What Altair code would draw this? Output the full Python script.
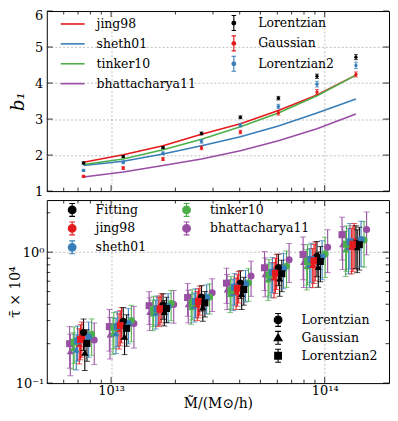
import altair as alt
import pandas as pd

# ---------------- data ----------------
mass = [7.43e12, 1.14e13, 1.75e13, 2.65e13, 4.03e13, 6.07e13, 9.20e13, 1.40e14]

# top panel: measured b1 per profile
b1_lorentzian = [1.78, 1.96, 2.21, 2.60, 3.05, 3.58, 4.19, 4.72]
b1_lorentzian_err = [0.03, 0.03, 0.03, 0.04, 0.04, 0.05, 0.06, 0.07]
b1_gaussian = [1.41, 1.64, 1.89, 2.20, 2.64, 3.17, 3.75, 4.24]
b1_gaussian_err = [0.03, 0.04, 0.04, 0.05, 0.05, 0.06, 0.07, 0.07]
b1_lorentzian2 = [1.575, 1.80, 2.05, 2.38, 2.83, 3.35, 3.97, 4.49]
b1_lorentzian2_err = [0.03, 0.04, 0.04, 0.05, 0.05, 0.06, 0.08, 0.09]

# top panel: model predictions of b1
b1_jing98 = [1.80, 2.01, 2.26, 2.58, 2.87, 3.24, 3.67, 4.22]
b1_sheth01 = [1.71, 1.83, 2.03, 2.26, 2.51, 2.81, 3.17, 3.56]
b1_tinker10 = [1.74, 1.89, 2.15, 2.44, 2.79, 3.17, 3.65, 4.22]
b1_bhattacharya11 = [1.39, 1.53, 1.71, 1.89, 2.12, 2.40, 2.73, 3.14]

# bottom panel: tau x 1e4, per profile and model
tau_L_fitting = [0.243, 0.297, 0.394, 0.455, 0.582, 0.760, 0.927, 1.17]
tau_L_jing98 = [0.225, 0.290, 0.385, 0.440, 0.560, 0.740, 0.900, 1.20]
tau_L_sheth01 = [0.225, 0.285, 0.385, 0.450, 0.570, 0.750, 0.920, 1.25]
tau_L_tinker10 = [0.236, 0.300, 0.405, 0.455, 0.585, 0.780, 0.970, 1.24]
tau_L_bhattacharya11 = [0.213, 0.285, 0.398, 0.489, 0.657, 0.875, 1.09, 1.49]

tau_G_fitting = [0.171, 0.226, 0.350, 0.380, 0.480, 0.630, 0.770, 1.09]
tau_G_jing98 = [0.200, 0.260, 0.360, 0.400, 0.500, 0.640, 0.800, 1.10]
tau_G_sheth01 = [0.180, 0.240, 0.345, 0.390, 0.490, 0.640, 0.800, 1.10]
tau_G_tinker10 = [0.185, 0.240, 0.340, 0.380, 0.480, 0.620, 0.780, 1.05]
tau_G_bhattacharya11 = [0.175, 0.235, 0.350, 0.400, 0.520, 0.680, 0.840, 1.15]

tau_L2_fitting = [0.201, 0.262, 0.371, 0.410, 0.518, 0.684, 0.849, 1.14]
tau_L2_jing98 = [0.215, 0.275, 0.370, 0.420, 0.530, 0.690, 0.860, 1.15]
tau_L2_sheth01 = [0.210, 0.270, 0.370, 0.420, 0.540, 0.700, 0.880, 1.20]
tau_L2_tinker10 = [0.205, 0.265, 0.365, 0.410, 0.510, 0.670, 0.850, 1.15]
tau_L2_bhattacharya11 = [0.200, 0.270, 0.390, 0.450, 0.580, 0.760, 0.960, 1.36]

# relative 1-sigma errors on tau per model
relerr_fitting = [0.27, 0.27, 0.22, 0.22, 0.24, 0.27, 0.30, 0.36]
relerr_jing98 = [0.30, 0.30, 0.25, 0.25, 0.27, 0.30, 0.33, 0.38]
relerr_sheth01 = [0.30, 0.30, 0.25, 0.25, 0.27, 0.30, 0.33, 0.38]
relerr_tinker10 = [0.31, 0.31, 0.26, 0.26, 0.28, 0.31, 0.34, 0.38]
relerr_bhattacharya11 = [0.35, 0.35, 0.28, 0.28, 0.30, 0.33, 0.36, 0.36]

# effective-mass shift (dex) of each model, per profile
shift_lorentzian = [0.000, -0.008, 0.024, 0.038, 0.050]
shift_gaussian = [0.006, -0.020, -0.034, -0.048, -0.062]
shift_lorentzian2 = [0.016, -0.014, -0.028, -0.044, -0.065]

models = ["Fitting", "jing98", "sheth01", "tinker10", "bhattacharya11"]
profiles = ["Lorentzian", "Gaussian", "Lorentzian2"]
model_colors = ["black", "#e41a1c", "#377eb8", "#4daf4a", "#984ea3"]
profile_colors = ["black", "#e41a1c", "#377eb8"]

# tick positions
x_major = [1e13, 1e14]
x_minor = [6e12, 7e12, 8e12, 9e12, 2e13, 3e13, 4e13, 5e13, 6e13, 7e13, 8e13, 9e13]
ytop_major = [1, 2, 3, 4, 5, 6]
ybot_major = [0.1, 1.0]
ybot_minor = [0.2, 0.3, 0.4, 0.5, 0.6, 0.7, 0.8, 0.9, 2.0]

# ---------------- tables ----------------
rows = []
for prof, vals, errs in [("Lorentzian", b1_lorentzian, b1_lorentzian_err),
                         ("Gaussian", b1_gaussian, b1_gaussian_err),
                         ("Lorentzian2", b1_lorentzian2, b1_lorentzian2_err)]:
    for m, v, e in zip(mass, vals, errs):
        rows.append({"M": m, "b": v, "lo": v - e, "hi": v + e, "profile": prof})
top_pts = pd.DataFrame(rows)

rows = []
for mod, vals in [("jing98", b1_jing98), ("sheth01", b1_sheth01),
                  ("tinker10", b1_tinker10), ("bhattacharya11", b1_bhattacharya11)]:
    for m, v in zip(mass, vals):
        rows.append({"M": m, "b": v, "model": mod})
top_lines = pd.DataFrame(rows)

tau_tab = {
    "Lorentzian": [tau_L_fitting, tau_L_jing98, tau_L_sheth01, tau_L_tinker10, tau_L_bhattacharya11],
    "Gaussian": [tau_G_fitting, tau_G_jing98, tau_G_sheth01, tau_G_tinker10, tau_G_bhattacharya11],
    "Lorentzian2": [tau_L2_fitting, tau_L2_jing98, tau_L2_sheth01, tau_L2_tinker10, tau_L2_bhattacharya11],
}
shift_tab = {"Lorentzian": shift_lorentzian, "Gaussian": shift_gaussian, "Lorentzian2": shift_lorentzian2}
err_tab = [relerr_fitting, relerr_jing98, relerr_sheth01, relerr_tinker10, relerr_bhattacharya11]

rows = []
for mi in reversed(range(len(models))):          # Fitting drawn last (on top)
    for prof in profiles:
        for k, m in enumerate(mass):
            v = tau_tab[prof][mi][k]
            e = err_tab[mi][k] * v
            rows.append({"M": m * 10 ** shift_tab[prof][mi], "tau": v, "lo": v - e, "hi": v + e,
                         "model": models[mi], "profile": prof})
bot = pd.DataFrame(rows)

# ---------------- layout constants ----------------
W = 344
H_TOP = 181
H_BOT = 184
MAJ, MIN = 6, 3.5
FONT = "DejaVu Serif"

xscale = alt.Scale(type="log", domain=[5e12, 2e14], nice=False)
ytop_scale = alt.Scale(domain=[1, 6], nice=False, zero=False)
ybot_scale = alt.Scale(type="log", domain=[0.1, 2.5], nice=False)

x_axis_top = alt.Axis(values=x_major, labels=False, title=None, grid=True,
                      minExtent=0, maxExtent=0, labelPadding=0)
x_axis_bot = alt.Axis(values=x_major, labelExpr="datum.value < 5e13 ? '10¹³' : '10¹⁴'",
                      title="M̃/(M⊙/h)", grid=True, labelPadding=1, titlePadding=0,
                      titleFontSize=14)
y_axis_top = alt.Axis(values=ytop_major, format="d", title="b₁", titleFontStyle="italic",
                      titleFontSize=18, grid=True, labelPadding=4, titleX=-28,
                      titleBaseline="middle",
                      labelBaseline={"condition": {"test": "datum.value >= 6", "value": "top"},
                                     "value": "middle"},
                      labelOffset={"condition": {"test": "datum.value >= 6", "value": -1}, "value": 0},
                      gridOpacity={"condition": {"test": "datum.value <= 1 || datum.value >= 6", "value": 0},
                                   "value": 1})
y_axis_bot = alt.Axis(values=ybot_major, labelExpr="datum.value < 0.5 ? '10⁻¹' : '10⁰'",
                      title="τ̄ × 10⁴", titleFontSize=14, grid=True, labelPadding=3,
                      titleX=-31, titleBaseline="middle",
                      gridOpacity={"condition": {"test": "datum.value < 0.5", "value": 0}, "value": 1})

EB_T = "M0,-1L0,1M-0.3,-1L0.3,-1M-0.3,1L0.3,1"
PATH_EB_TOP = EB_T + "M-0.25,0A0.25,0.25,0,1,0,0.25,0A0.25,0.25,0,1,0,-0.25,0Z"
EB = "M0,-1L0,1M-0.45,-1L0.45,-1M-0.45,1L0.45,1"
PATH_CIRC = EB + "M-0.6,0A0.6,0.6,0,1,0,0.6,0A0.6,0.6,0,1,0,-0.6,0Z"
PATH_TRI = EB + "M0,-0.62L0.62,0.45L-0.62,0.45Z"
PATH_SQ = EB + "M-0.52,-0.52L0.52,-0.52L0.52,0.52L-0.52,0.52Z"


def edge_ticks(xs, ys, xlen, ylen, xaxis, yaxis, yscale, H):
    """inward ticks on all four sides"""
    out = []
    dfx = pd.DataFrame({"v": xs})
    out.append(alt.Chart(dfx).mark_rule(color="black", strokeWidth=0.8).encode(
        x=alt.X("v:Q", scale=xscale, axis=xaxis), y=alt.value(H), y2=alt.value(H - xlen)))
    out.append(alt.Chart(dfx).mark_rule(color="black", strokeWidth=0.8).encode(
        x=alt.X("v:Q", scale=xscale, axis=xaxis), y=alt.value(0), y2=alt.value(xlen)))
    if ys:
        dfy = pd.DataFrame({"v": ys})
        out.append(alt.Chart(dfy).mark_rule(color="black", strokeWidth=0.8).encode(
            y=alt.Y("v:Q", scale=yscale, axis=yaxis), x=alt.value(0), x2=alt.value(ylen)))
        out.append(alt.Chart(dfy).mark_rule(color="black", strokeWidth=0.8).encode(
            y=alt.Y("v:Q", scale=yscale, axis=yaxis), x=alt.value(W), x2=alt.value(W - ylen)))
    return out


# ---------------- top panel ----------------
model4 = models[1:]
color4 = model_colors[1:]
line_legend = alt.Legend(orient="none", legendX=13, legendY=0, title=None, symbolType="stroke",
                         symbolSize=576, symbolStrokeWidth=1.6, labelOffset=11, rowPadding=-4.6,
                         padding=0)
tx = alt.X("M:Q", scale=xscale, axis=x_axis_top)
lines = alt.Chart(top_lines).mark_line(strokeWidth=1.6).encode(
    x=tx, y=alt.Y("b:Q", scale=ytop_scale, axis=y_axis_top),
    color=alt.Color("model:N", scale=alt.Scale(domain=model4, range=color4), legend=line_legend),
    detail="model:N",
)


def pf_scale():
    return alt.Scale(domain=profiles, range=profile_colors)


prof_legend = alt.Legend(orient="none", legendX=179.5, legendY=3.5, title=None, symbolType=PATH_EB_TOP,
                         symbolSize=225, symbolStrokeWidth=1.1, labelOffset=16, rowPadding=-0.5,
                         padding=0)

top_bars = alt.Chart(top_pts).mark_rule(strokeWidth=1.1).encode(
    x=tx, y=alt.Y("lo:Q", scale=ytop_scale, axis=y_axis_top), y2="hi:Q",
    stroke=alt.Stroke("profile:N", scale=pf_scale(), legend=None))
top_cap_lo = alt.Chart(top_pts).mark_tick(orient="horizontal", size=4, thickness=1).encode(
    x=tx, y=alt.Y("lo:Q", scale=ytop_scale, axis=y_axis_top),
    fill=alt.Fill("profile:N", scale=pf_scale(), legend=None))
top_cap_hi = alt.Chart(top_pts).mark_tick(orient="horizontal", size=4, thickness=1).encode(
    x=tx, y=alt.Y("hi:Q", scale=ytop_scale, axis=y_axis_top),
    fill=alt.Fill("profile:N", scale=pf_scale(), legend=None))
top_dots = alt.Chart(top_pts).mark_point(filled=True, size=11, opacity=1, shape="circle").encode(
    x=tx, y=alt.Y("b:Q", scale=ytop_scale, axis=y_axis_top),
    fill=alt.Fill("profile:N", scale=pf_scale(), legend=None))
top_leg = alt.Chart(top_pts).transform_filter("false").mark_point(
    filled=True, shape=PATH_EB_TOP, size=225, strokeWidth=1.1, opacity=1).encode(
    x=tx, y=alt.Y("b:Q", scale=ytop_scale, axis=y_axis_top),
    fill=alt.Fill("profile:N", scale=pf_scale(), legend=prof_legend),
    stroke=alt.Stroke("profile:N", scale=pf_scale(), legend=prof_legend))

top = alt.layer(
    lines, top_bars, top_cap_lo, top_cap_hi, top_dots, top_leg,
    *edge_ticks(x_major, ytop_major, MAJ, MAJ, x_axis_top, y_axis_top, ytop_scale, H_TOP),
    *edge_ticks(x_minor, [], MIN, MIN, x_axis_top, y_axis_top, ytop_scale, H_TOP),
).resolve_scale(fill="independent", stroke="independent").properties(width=W, height=H_TOP)

# ---------------- bottom panel ----------------


def md_scale():
    return alt.Scale(domain=models, range=model_colors)


model_legend = alt.Legend(orient="none", legendX=18, legendY=2, title=None, columns=2,
                          columnPadding=33, symbolType=PATH_CIRC, symbolSize=169,
                          symbolStrokeWidth=1.1, labelOffset=16, rowPadding=0, padding=0)
shape_legend = alt.Legend(orient="none", legendX=225, legendY=113, title=None, symbolSize=169,
                          symbolStrokeWidth=1.1, labelOffset=16, rowPadding=-1, padding=0)

bx = alt.X("M:Q", scale=xscale, axis=x_axis_bot)
bot_bars = alt.Chart(bot).mark_rule(strokeWidth=1.1).encode(
    x=bx, y=alt.Y("lo:Q", scale=ybot_scale, axis=y_axis_bot), y2="hi:Q",
    stroke=alt.Stroke("model:N", scale=md_scale(), legend=None))
bot_cap_lo = alt.Chart(bot).mark_tick(orient="horizontal", size=6, thickness=1).encode(
    x=bx, y=alt.Y("lo:Q", scale=ybot_scale, axis=y_axis_bot),
    fill=alt.Fill("model:N", scale=md_scale(), legend=None))
bot_cap_hi = alt.Chart(bot).mark_tick(orient="horizontal", size=6, thickness=1).encode(
    x=bx, y=alt.Y("hi:Q", scale=ybot_scale, axis=y_axis_bot),
    fill=alt.Fill("model:N", scale=md_scale(), legend=None))

point_layers = []
for prof, shp in [("Lorentzian", "circle"), ("Gaussian", "triangle-up"), ("Lorentzian2", "square")]:
    point_layers.append(
        alt.Chart(bot).transform_filter(alt.datum.profile == prof).mark_point(
            filled=True, size=50, opacity=1, shape=shp).encode(
            x=bx, y=alt.Y("tau:Q", scale=ybot_scale, axis=y_axis_bot),
            fill=alt.Fill("model:N", scale=md_scale(), legend=None)))

bot_leg_models = alt.Chart(bot).transform_filter("false").mark_point(
    filled=True, shape=PATH_CIRC, size=169, strokeWidth=1.1, opacity=1).encode(
    x=bx, y=alt.Y("tau:Q", scale=ybot_scale, axis=y_axis_bot),
    fill=alt.Fill("model:N", scale=md_scale(), legend=model_legend),
    stroke=alt.Stroke("model:N", scale=md_scale(), legend=model_legend))
bot_leg_prof = alt.Chart(bot).transform_filter("false").mark_point(
    filled=False, color="black", fill="black", size=169, strokeWidth=1.1, opacity=1).encode(
    x=bx, y=alt.Y("tau:Q", scale=ybot_scale, axis=y_axis_bot),
    shape=alt.Shape("profile:N", scale=alt.Scale(domain=profiles, range=[PATH_CIRC, PATH_TRI, PATH_SQ]),
                    legend=shape_legend))

bottom = alt.layer(
    bot_bars, bot_cap_lo, bot_cap_hi, *point_layers, bot_leg_models, bot_leg_prof,
    *edge_ticks(x_major, ybot_major, MAJ, MAJ, x_axis_bot, y_axis_bot, ybot_scale, H_BOT),
    *edge_ticks(x_minor, ybot_minor, MIN, MIN, x_axis_bot, y_axis_bot, ybot_scale, H_BOT),
).resolve_scale(fill="independent", stroke="independent").properties(width=W, height=H_BOT)

chart = alt.vconcat(top, bottom, spacing=0).resolve_scale(
    x="independent", y="independent", color="independent", fill="independent",
    stroke="independent", shape="independent"
).properties(padding=0).configure_view(
    stroke="black", strokeWidth=1
).configure_axis(
    labelFont=FONT, labelFontSize=13, labelColor="black", titleFont=FONT, titleColor="black",
    titleFontWeight="normal", domain=False, ticks=False, gridColor="#b0b0b0",
    gridDash=[2, 2], gridWidth=0.8
).configure_legend(
    labelFont=FONT, labelFontSize=12.5, labelColor="black"
)

chart.save("out.html", embed_options={"renderer": "svg", "actions": False})
